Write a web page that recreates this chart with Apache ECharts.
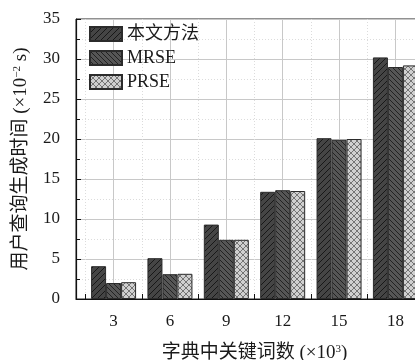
<!DOCTYPE html>
<html>
<head>
<meta charset="utf-8">
<script src="https://cdn.jsdelivr.net/npm/echarts@6/dist/echarts.min.js"></script>
<style>
  html, body { margin: 0; padding: 0; background: #fff; }
  #chart { width: 415px; height: 360px; }
</style>
</head>
<body>
<div id="chart"></div>
<script>
// Dictionary size (×10^3) on the x axis
const dictSizes = [3, 6, 9, 12, 15, 18];
// Query generation time (×10^-2 s) per scheme
const oursTime = [4.1, 5.1, 9.3, 13.4, 20.1, 30.2];
const mrseTime = [2.0, 3.1, 7.4, 13.6, 19.9, 29.0];
const prseTime = [2.1, 3.15, 7.4, 13.5, 20.0, 29.2];
const seriesNames = ['本文方法', 'MRSE', 'PRSE'];
// Boundaries between dictionary-size groups
const groupEdges = [1.5, 4.5, 7.5, 10.5, 13.5, 16.5, 19.5];

const FONT = "'Liberation Serif','DejaVu Serif','Noto Sans CJK SC',serif";

// Hatched fill patterns drawn on small tiles
function hatch(bg, ink, size, kind, width) {
  const c = document.createElement('canvas');
  c.width = size; c.height = size;
  const g = c.getContext('2d');
  g.fillStyle = bg;
  g.fillRect(0, 0, size, size);
  g.strokeStyle = ink;
  g.lineWidth = width;
  const fwd = () => {
    g.beginPath();
    g.moveTo(0, size); g.lineTo(size, 0);
    g.moveTo(-1, 1); g.lineTo(1, -1);
    g.moveTo(size - 1, size + 1); g.lineTo(size + 1, size - 1);
    g.stroke();
  };
  const back = () => {
    g.beginPath();
    g.moveTo(0, 0); g.lineTo(size, size);
    g.moveTo(-1, size - 1); g.lineTo(1, size + 1);
    g.moveTo(size - 1, -1); g.lineTo(size + 1, 1);
    g.stroke();
  };
  if (kind === '/' || kind === 'x') fwd();
  if (kind === '\\' || kind === 'x') back();
  return { image: c, repeat: 'repeat' };
}

const fills = [
  hatch('#454545', '#181818', 6, '/', 1),
  hatch('#565656', '#222222', 5, '\\', 1),
  hatch('#d0d0d0', '#6a6a6a', 6, 'x', 0.9)
];
const values = [oursTime, mrseTime, prseTime];

const chart = echarts.init(document.getElementById('chart'), null, { renderer: 'canvas' });

const series = seriesNames.map((name, i) => ({
  name: name,
  type: 'bar',
  xAxisIndex: 0,
  barWidth: 15,
  barGap: '0%',
  data: dictSizes.map((x, k) => [x, values[i][k]]),
  itemStyle: { color: fills[i], borderColor: '#2b2b2b', borderWidth: 1 }
}));

chart.setOption({
  animation: false,
  backgroundColor: '#fff',
  textStyle: { fontFamily: FONT, color: '#1a1a1a' },
  grid: {
    left: 76, top: 19, width: 357, height: 280,
    containLabel: false, outerBoundsMode: 'none',
    show: true, borderColor: '#222', borderWidth: 1, backgroundColor: 'transparent'
  },
  legend: {
    orient: 'vertical',
    left: 89, top: 25, padding: 0,
    itemWidth: 32, itemHeight: 14, itemGap: 6,
    icon: 'rect',
    textStyle: { fontFamily: FONT, fontSize: 18, color: '#1a1a1a' },
    data: seriesNames
  },
  xAxis: [
    {
      type: 'value', min: 1, max: 20,
      name: '字典中关键词数 (×10{s|3})',
      nameLocation: 'middle', nameGap: 45,
      nameTextStyle: {
        fontFamily: FONT, fontSize: 19, color: '#1a1a1a',
        rich: { s: { fontFamily: FONT, fontSize: 11, verticalAlign: 'top', padding: [0, 0, 6, 0] } }
      },
      axisLine: { show: true, lineStyle: { color: '#111', width: 1.2 } },
      axisTick: { show: true, inside: true, length: 5, customValues: dictSizes, lineStyle: { color: '#111' } },
      axisLabel: { customValues: dictSizes, fontFamily: FONT, fontSize: 17, color: '#1a1a1a', margin: 14 },
      splitLine: { show: true, lineStyle: { color: '#c8c8c8', width: 1 } }
    },
    {
      type: 'value', min: 1, max: 20, position: 'bottom',
      axisLine: { show: false },
      axisTick: { show: true, inside: true, length: 5, customValues: groupEdges, lineStyle: { color: '#111' } },
      axisLabel: { show: false },
      splitLine: { show: true, lineStyle: { color: '#dcdcdc', width: 1, type: [1, 2] } }
    }
  ],
  yAxis: {
    type: 'value', min: 0, max: 35, interval: 5,
    name: '用户查询生成时间 (×10{s|−2} s)',
    nameLocation: 'middle', nameGap: 45,
    nameTextStyle: {
      fontFamily: FONT, fontSize: 19, color: '#1a1a1a',
      rich: { s: { fontFamily: FONT, fontSize: 11, verticalAlign: 'top', padding: [0, 0, 6, 0] } }
    },
    axisLine: { show: true, lineStyle: { color: '#111', width: 1.2 } },
    axisTick: { show: true, inside: true, length: 5, lineStyle: { color: '#111' } },
    minorTick: { show: true, splitNumber: 2, length: 4, lineStyle: { color: '#111' } },
    axisLabel: { fontFamily: FONT, fontSize: 17, color: '#1a1a1a', margin: 16 },
    splitLine: { show: true, lineStyle: { color: '#c8c8c8', width: 1 } },
    minorSplitLine: { show: true, lineStyle: { color: '#dcdcdc', width: 1, type: [1, 2] } }
  },
  series: series
});
</script>
</body>
</html>
